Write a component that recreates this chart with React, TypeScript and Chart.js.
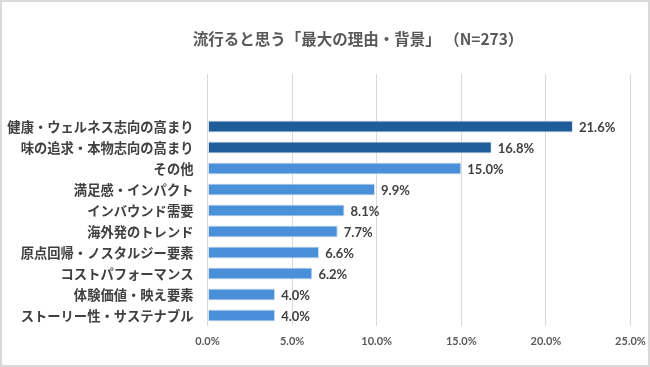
import React, { useEffect, useRef } from "react";
import { Chart, registerables } from "chart.js";

Chart.register(...registerables);

const titleText = "流行ると思う「最大の理由・背景」 （N=273）";
const categories = [
  "健康・ウェルネス志向の高まり",
  "味の追求・本物志向の高まり",
  "その他",
  "満足感・インパクト",
  "インバウンド需要",
  "海外発のトレンド",
  "原点回帰・ノスタルジー要素",
  "コストパフォーマンス",
  "体験価値・映え要素",
  "ストーリー性・サステナブル",
];
const values = [21.6, 16.8, 15.0, 9.9, 8.1, 7.7, 6.6, 6.2, 4.0, 4.0];
const highlighted = [true, true, false, false, false, false, false, false, false, false];
const xTicks = [0, 5, 10, 15, 20, 25];

const DARK = "#1f5c99";
const LIGHT = "#4a90d9";
const CJK = "'Noto Sans CJK JP', 'Noto Sans', sans-serif";
const LAT = "Lato, 'Noto Sans', sans-serif";

export default function App() {
  const ref = useRef<HTMLCanvasElement | null>(null);

  useEffect(() => {
    document.body.style.margin = "0";
    const canvas = ref.current;
    if (!canvas) return;

    // two blank rows at the top leave the empty band above the first bar
    const labels = ["", "", ...categories];
    const data = [null, null, ...values];
    const colors = [LIGHT, LIGHT, ...highlighted.map((h) => (h ? DARK : LIGHT))];

    const framePlugin = {
      id: "frame",
      beforeDraw(chart: any) {
        const { ctx, width, height } = chart;
        ctx.save();
        ctx.fillStyle = "#ffffff";
        ctx.fillRect(0, 0, width, height);
        ctx.strokeStyle = "#d9d9d9";
        ctx.lineWidth = 2;
        ctx.strokeRect(1, 1, width - 2, height - 2);
        ctx.restore();
      },
      afterDraw(chart: any) {
        const { ctx } = chart;
        ctx.save();
        ctx.fillStyle = "#595959";
        ctx.font = `bold 15.5px ${CJK}`;
        ctx.textAlign = "center";
        ctx.textBaseline = "middle";
        ctx.fillText(titleText, 358, 39);
        ctx.restore();
      },
    };

    const valueLabels = {
      id: "valueLabels",
      afterDatasetsDraw(chart: any) {
        const { ctx } = chart;
        const meta = chart.getDatasetMeta(0);
        ctx.save();
        ctx.fillStyle = "#404040";
        ctx.font = `bold 13px ${LAT}`;
        ctx.textAlign = "left";
        ctx.textBaseline = "middle";
        meta.data.forEach((el: any, i: number) => {
          const v = data[i];
          if (v == null) return;
          ctx.fillText(v.toFixed(1) + "%", el.x + 6, el.y + 1);
        });
        ctx.restore();
      },
    };

    const chart = new Chart(canvas, {
      type: "bar",
      data: {
        labels,
        datasets: [
          {
            data,
            backgroundColor: colors,
            borderColor: "#d6e2f0",
            borderWidth: 1,
            borderSkipped: false,
            categoryPercentage: 1,
            barPercentage: 0.57,
          },
        ],
      },
      options: {
        indexAxis: "y",
        animation: false,
        responsive: false,
        layout: { padding: { top: 74, right: 19.5, left: 0, bottom: 0 } },
        plugins: {
          legend: { display: false },
          title: { display: false },
          tooltip: { enabled: false },
        },
        scales: {
          x: {
            min: 0,
            max: 25,
            afterBuildTicks(scale: any) {
              scale.ticks = xTicks.map((v) => ({ value: v }));
            },
            afterFit(scale: any) {
              scale.height = 41;
              scale.paddingLeft = 0;
              scale.paddingRight = 0;
            },
            grid: { color: "#d9d9d9", lineWidth: 1, drawTicks: false },
            border: { display: false },
            ticks: {
              padding: 9,
              color: "#595959",
              font: { family: LAT, size: 11, weight: "bold" },
              callback: (v: any) => Number(v).toFixed(1) + "%",
            },
          },
          y: {
            afterFit(scale: any) {
              scale.width = 207.5;
            },
            grid: { display: false, drawTicks: false },
            border: { display: false },
            ticks: {
              padding: 14,
              color: "#404040",
              font: { family: CJK, size: 13.3, weight: "bold" },
            },
          },
        },
      },
      plugins: [framePlugin, valueLabels],
    });

    return () => chart.destroy();
  }, []);

  return <canvas ref={ref} width={650} height={367} style={{ display: "block" }} />;
}
